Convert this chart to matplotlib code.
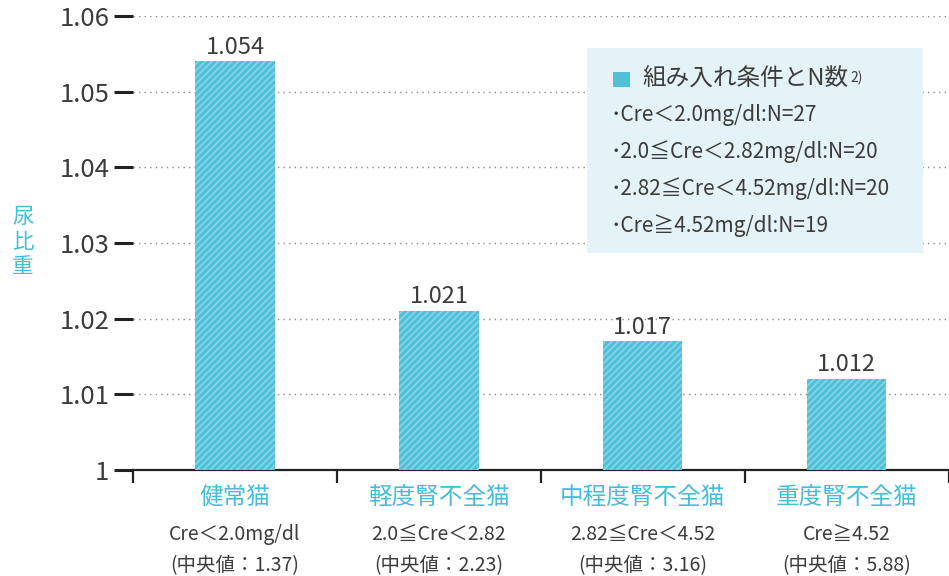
import numpy as np
import matplotlib
matplotlib.use('Agg')
import matplotlib.pyplot as plt
from matplotlib.patches import Rectangle
from matplotlib.text import Annotation

plt.rcParams['font.family'] = ['Noto Sans CJK JP', 'DejaVu Sans']
plt.rcParams['hatch.linewidth'] = 1.2

# --------------------------------------------------------------------------------
# DATA

categories = ['健常猫', '軽度腎不全猫', '中程度腎不全猫', '重度腎不全猫']
cre_ranges = ['Cre＜2.0mg/dl', '2.0≦Cre＜2.82', '2.82≦Cre＜4.52', 'Cre≧4.52']
cre_medians = [1.37, 2.23, 3.16, 5.88]
usg = [1.054, 1.021, 1.017, 1.012]

legend_conds = ['Cre＜2.0mg/dl', '2.0≦Cre＜2.82mg/dl', '2.82≦Cre＜4.52mg/dl', 'Cre≧4.52mg/dl']
n_counts = [27, 20, 20, 19]

yticks = [1.0, 1.01, 1.02, 1.03, 1.04, 1.05, 1.06]

BAR = '#4fc0d8'
STRIPE = '#86d6e7'
CYAN_TXT = '#45bdd8'
GRAY_TXT = '#3c3c3c'

W, H = 949, 576

# --------------------------------------------------------------------------------
# PLOT

fig = plt.figure(figsize=(W / 100, H / 100), dpi=100)
ax = fig.add_axes([133 / W, 1 - 470 / H, 815.5 / W, 454 / H])

x = np.arange(len(categories))
ax.bar(x, usg, width=0.39, color=BAR, edgecolor=STRIPE, linewidth=0, hatch='/////', zorder=3)

for xi, v in zip(x, usg):
    ax.annotate(f'{v:.3f}', xy=(xi, v), xytext=(0, 2), textcoords='offset points',
                ha='center', va='bottom', fontsize=17, color=GRAY_TXT)

ax.set_xlim(-0.5, len(categories) - 0.5)
ax.set_ylim(1.0, 1.06)
ax.set_yticks(yticks)
ax.set_yticklabels([f'{v:g}' for v in yticks])
ax.set_xticks(np.arange(len(categories) + 1) - 0.5)
ax.set_xticklabels([])

ax.tick_params(axis='y', direction='out', length=14, width=2.2, color='#222222',
               labelsize=18.5, labelcolor=GRAY_TXT, pad=3)
ax.tick_params(axis='x', direction='out', length=9, width=1.6, color='#222222')

for s in ['top', 'right', 'left']:
    ax.spines[s].set_visible(False)
ax.spines['bottom'].set_linewidth(1.6)
ax.spines['bottom'].set_color('#222222')

ax.yaxis.grid(True, linestyle=(0, (1, 3)), color='#8a8a8a', linewidth=1.0, zorder=0)
ax.set_axisbelow(True)

# category labels under the axis
xt = ax.get_xaxis_transform()
for xi, name, rng, med in zip(x, categories, cre_ranges, cre_medians):
    ax.text(xi, -0.06, name, transform=xt, ha='center', va='center', fontsize=17, color=CYAN_TXT)
    ax.text(xi, -0.142, rng, transform=xt, ha='center', va='center', fontsize=14, color=GRAY_TXT)
    ax.text(xi, -0.21, f'(中央値：{med:.2f})', transform=xt, ha='center', va='center',
            fontsize=14, color=GRAY_TXT)

# y label, stacked vertically
fig.text(23 / W, 1 - 242 / H, '尿\n比\n重', ha='center', va='center', fontsize=15.5,
         color=CYAN_TXT, linespacing=1.2)

# condition box
fig.add_artist(Rectangle((587 / W, 1 - 253 / H), (923 - 587) / W, (253 - 48) / H,
                         transform=fig.transFigure, facecolor='#e4f3f7', edgecolor='none', zorder=5))
fig.add_artist(Rectangle((613 / W, 1 - 87 / H), 17 / W, 15 / H,
                         transform=fig.transFigure, facecolor=BAR, edgecolor='none', zorder=6))
title = fig.text(642 / W, 1 - 79 / H, '組み入れ条件とN数', ha='left', va='center',
                 fontsize=17, color=GRAY_TXT, zorder=6)
sup = Annotation('2)', xy=(1, 1), xycoords=title, xytext=(2, -2), textcoords='offset points',
                 ha='left', va='top', fontsize=10, color=GRAY_TXT, annotation_clip=False)
sup.set_zorder(7)
fig.add_artist(sup)

for i, (cond, n) in enumerate(zip(legend_conds, n_counts)):
    fig.text(611 / W, 1 - (115 + 37 * i) / H, f'･{cond}:N={n}', ha='left', va='center',
             fontsize=15, color=GRAY_TXT, zorder=6)

fig.savefig('out.png', dpi=100)
